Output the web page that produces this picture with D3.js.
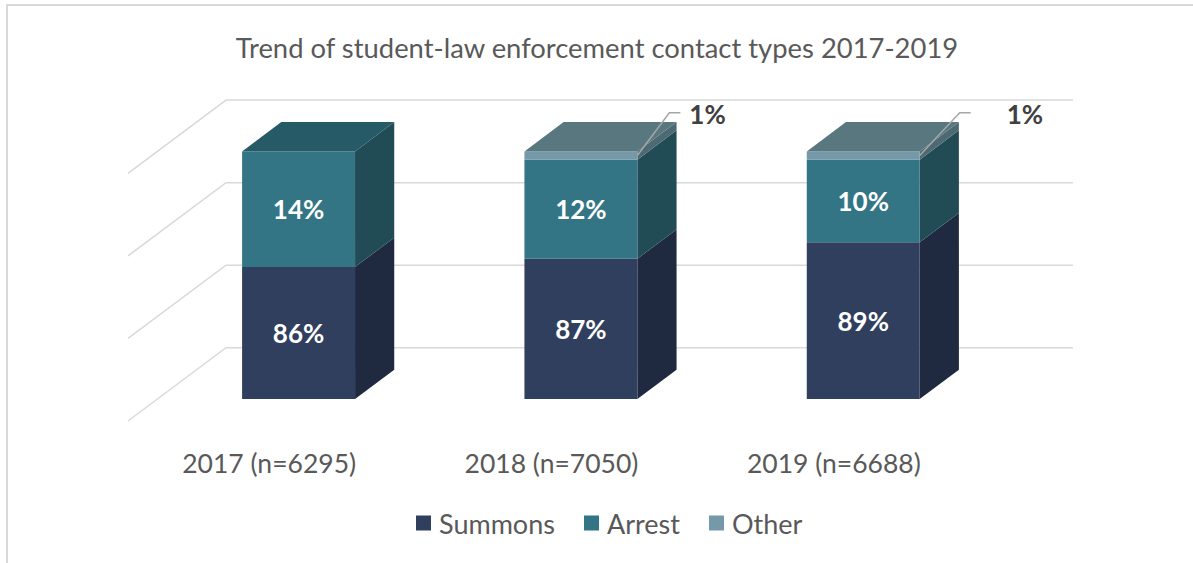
<!DOCTYPE html>
<html>
<head>
<meta charset="utf-8">
<script src="https://cdn.jsdelivr.net/npm/d3@7"></script>
<style>
  body { margin: 0; background: #fff; }
  svg { display: block; font-family: Lato, "Noto Sans", sans-serif; }
</style>
</head>
<body>
<div id="container"></div>
<script>
// Data
const categories = ["2017 (n=6295)", "2018 (n=7050)", "2019 (n=6688)"];
const seriesNames = ["Summons", "Arrest", "Other"];
const summons = [0.86, 0.87, 0.89];
const arrest = [0.14, 0.12, 0.10];
const other = [0, 0.01, 0.01];
const yTicks = [0.7, 0.8, 0.9, 1.0];

const draw = () => {
  const width = 1193,
    height = 563;

  const svg = d3.select("div#container")
    .append("svg")
    .attr("width", width)
    .attr("height", height);

  // frame
  svg.append("path")
    .attr("d", `M7,${height} L7,5 L${width},5`)
    .attr("fill", "none")
    .attr("stroke", "#d9d9d9")
    .attr("stroke-width", 2);

  // title
  svg.append("text")
    .attr("x", 597)
    .attr("y", 47)
    .attr("text-anchor", "middle")
    .attr("dominant-baseline", "central")
    .attr("font-size", 27.4)
    .attr("fill", "#595959")
    .text("Trend of student-law enforcement contact types 2017-2019");

  // Scales (front plane of the floor, depth goes 0..1 towards the back wall)
  const x = d3.scaleBand()
    .domain(categories)
    .range([128, 975])
    .paddingInner(0.6)
    .paddingOuter(0.3);
  const y = d3.scaleLinear()
    .domain([0.7, 1.0])
    .range([421, 173.4]);
  const DX = 98, DY = 73.3;
  const z0 = 0.3, z1 = 0.7;
  const proj = (px, v, z) => [px + z * DX, y(v) - z * DY];
  const poly = (pts) => "M" + pts.map((p) => p.join(",")).join("L") + "Z";

  // Gridlines: back wall + side wall
  const grid = svg.append("g")
    .attr("stroke", "#d9d9d9")
    .attr("stroke-width", 1.5)
    .attr("fill", "none");
  grid.selectAll("path")
    .data(yTicks)
    .enter()
    .append("path")
    .attr("d", (t) => {
      const a = proj(x.range()[0], t, 0),
        b = proj(x.range()[0], t, 1),
        c = proj(x.range()[1], t, 1);
      return `M${a}L${b}L${c}`;
    });

  // Stack
  const table = categories.map((c, i) => ({
    cat: c, Summons: summons[i], Arrest: arrest[i], Other: other[i]
  }));
  const stacked = d3.stack().keys(seriesNames)(table);

  const colors = {
    Summons: { front: "#303f5e", side: "#1f2940", top: "#28344f" },
    Arrest: { front: "#337584", side: "#214c56", top: "#255a66" },
    Other: { front: "#7599a8", side: "#4d6a74", top: "#58777f" }
  };

  const [lo, hi] = y.domain();
  const clip = (v) => Math.max(lo, Math.min(hi, v));

  const bars = svg.append("g");
  categories.forEach((c, i) => {
    const bx = x(c), bw = x.bandwidth();
    const segs = stacked
      .map((s) => ({ key: s.key, a: clip(s[i][0]), b: clip(s[i][1]) }))
      .filter((s) => s.b > s.a);
    const g = bars.append("g");
    segs.forEach((s) => {
      const col = colors[s.key];
      g.append("path")
        .attr("d", poly([proj(bx + bw, s.a, z0), proj(bx + bw, s.a, z1), proj(bx + bw, s.b, z1), proj(bx + bw, s.b, z0)]))
        .attr("fill", col.side);
      g.append("path")
        .attr("d", poly([proj(bx, s.a, z0), proj(bx + bw, s.a, z0), proj(bx + bw, s.b, z0), proj(bx, s.b, z0)]))
        .attr("fill", col.front);
    });
    const topSeg = segs[segs.length - 1];
    g.append("path")
      .attr("d", poly([proj(bx, topSeg.b, z0), proj(bx + bw, topSeg.b, z0), proj(bx + bw, topSeg.b, z1), proj(bx, topSeg.b, z1)]))
      .attr("fill", colors[topSeg.key].top);

    // labels
    segs.forEach((s) => {
      const val = table[i][s.key];
      if (s.key === "Other") {
        const corner = proj(bx + bw, s.b - (s.b - s.a) / 2, z0);
        const off = i === 1 ? [32, 52] : [40, 87];
        const elbow = [corner[0] + off[0], 112.7];
        g.append("path")
          .attr("d", `M${corner}L${elbow}L${elbow[0] + 11},${elbow[1]}`)
          .attr("fill", "none")
          .attr("stroke", "#a6a6a6")
          .attr("stroke-width", 1.5);
        g.append("text")
          .attr("x", corner[0] + off[1])
          .attr("y", 114)
          .attr("dominant-baseline", "central")
          .attr("font-size", 26)
          .attr("font-weight", "bold")
          .attr("fill", "#404040")
          .text(d3.format(".0%")(val));
      } else {
        const p = proj(bx + bw / 2, (s.a + s.b) / 2, z0);
        g.append("text")
          .attr("x", p[0])
          .attr("y", p[1])
          .attr("text-anchor", "middle")
          .attr("dominant-baseline", "central")
          .attr("font-size", 26)
          .attr("font-weight", "bold")
          .attr("fill", "#fff")
          .text(d3.format(".0%")(val));
      }
    });
  });

  // category labels
  svg.append("g")
    .selectAll("text")
    .data(categories)
    .enter()
    .append("text")
    .attr("x", (d) => x(d) + x.bandwidth() / 2)
    .attr("y", 463)
    .attr("text-anchor", "middle")
    .attr("dominant-baseline", "central")
    .attr("font-size", 26.5)
    .attr("fill", "#595959")
    .text((d) => d);

  // legend
  const legendX = [416, 584, 709];
  const legend = svg.append("g")
    .selectAll("g")
    .data(seriesNames)
    .enter()
    .append("g")
    .attr("transform", (d, i) => `translate(${legendX[i]},523)`);
  legend.append("rect")
    .attr("x", 0)
    .attr("y", -7.5)
    .attr("width", 15)
    .attr("height", 15)
    .attr("fill", (d) => colors[d].front);
  legend.append("text")
    .attr("x", 23)
    .attr("y", 0)
    .attr("dominant-baseline", "central")
    .attr("font-size", 27)
    .attr("fill", "#595959")
    .text((d) => d);
};

draw();
</script>
</body>
</html>
